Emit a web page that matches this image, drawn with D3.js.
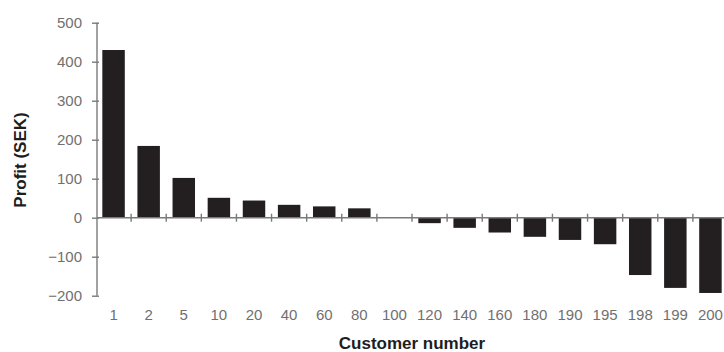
<!DOCTYPE html>
<html>
<head>
<meta charset="utf-8">
<script src="https://cdn.jsdelivr.net/npm/d3@7"></script>
<style>
  html, body { margin: 0; padding: 0; background: #fff; }
  svg { display: block; }
</style>
</head>
<body>
<svg id="chart" width="724" height="352"></svg>
<script>
const customers = ["1","2","5","10","20","40","60","80","100","120","140","160","180","190","195","198","199","200"];
const profit = [430, 184, 102, 51, 44, 33, 29, 24, 0, -14, -26, -38, -49, -57, -68, -147, -180, -193];
const yTicks = [500, 400, 300, 200, 100, 0, -100, -200];
const yTickLabels = ["500", "400", "300", "200", "100", "0", "\u2212100", "\u2212200"];

const svg = d3.select("#chart");
const axisColor = "#7a7a7a";
const labelColor = "#707070";
const font = "'Liberation Sans', Arial, Helvetica, sans-serif";

const x = d3.scaleBand().domain(customers).range([96, 728]).paddingInner(0.36).paddingOuter(0.18);
const y = d3.scaleLinear().domain([-200, 500]).range([295.7, 22.7]);

// bars
svg.append("g").selectAll("rect")
  .data(customers.map((c, i) => ({ c, v: profit[i] })))
  .join("rect")
  .attr("x", d => x(d.c))
  .attr("width", x.bandwidth())
  .attr("y", d => y(Math.max(0, d.v)))
  .attr("height", d => Math.abs(y(d.v) - y(0)))
  .attr("fill", "#231f20");

// y axis
const yAxis = d3.axisLeft(y).tickValues(yTicks)
  .tickFormat((d, i) => yTickLabels[i]).tickSize(5).tickPadding(10);
const gy = svg.append("g").attr("transform", "translate(97,0)").call(yAxis);
gy.select(".domain").attr("stroke", axisColor).attr("stroke-width", 1.4).attr("d", `M0,${y(500)}V${y(-200)}`);
gy.selectAll(".tick line").attr("stroke", axisColor).attr("stroke-width", 1.4).attr("x1", -5).attr("x2", 2);
gy.selectAll(".tick text").attr("fill", labelColor).style("font-family", font).style("font-size", "15px");

// zero baseline
svg.append("line").attr("x1", 97).attr("x2", 724).attr("y1", y(0)).attr("y2", y(0))
  .attr("stroke", axisColor).attr("stroke-width", 1.4);

// boundary ticks on zero line
const step = x.step();
const bounds = customers.slice(1).map(c => x(c) - (step - x.bandwidth()) / 2);
svg.append("g").selectAll("line").data(bounds).join("line")
  .attr("x1", d => d).attr("x2", d => d)
  .attr("y1", y(0) - 4).attr("y2", y(0) + 4)
  .attr("stroke", axisColor).attr("stroke-width", 1.4);

// x tick labels
svg.append("g").selectAll("text").data(customers).join("text")
  .attr("x", d => x(d) + x.bandwidth() / 2)
  .attr("y", 320)
  .attr("text-anchor", "middle")
  .attr("fill", labelColor)
  .style("font-family", font).style("font-size", "15px")
  .text(d => d);

// axis titles
svg.append("text")
  .attr("x", 412).attr("y", 349)
  .attr("text-anchor", "middle")
  .attr("fill", "#1e1e1e")
  .style("font-family", font).style("font-size", "17px").style("font-weight", "bold")
  .text("Customer number");

svg.append("text")
  .attr("transform", "translate(26,160) rotate(-90)")
  .attr("text-anchor", "middle")
  .attr("fill", "#1e1e1e")
  .style("font-family", font).style("font-size", "17px").style("font-weight", "bold")
  .text("Profit (SEK)");
</script>
</body>
</html>
